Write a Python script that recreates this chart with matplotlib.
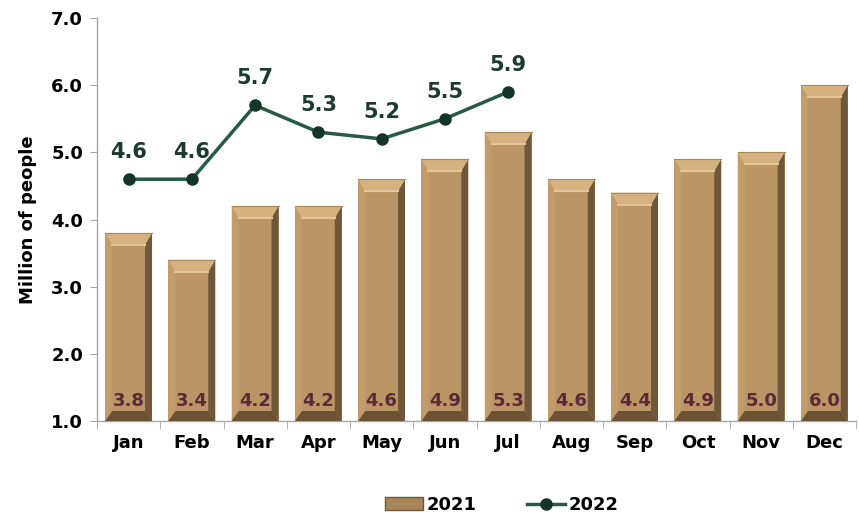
import matplotlib
matplotlib.use("Agg")
import matplotlib.pyplot as plt
from matplotlib.patches import Polygon, Patch
from matplotlib.lines import Line2D

months = ["Jan", "Feb", "Mar", "Apr", "May", "Jun", "Jul", "Aug", "Sep", "Oct", "Nov", "Dec"]
visitors_2021 = [3.8, 3.4, 4.2, 4.2, 4.6, 4.9, 5.3, 4.6, 4.4, 4.9, 5.0, 6.0]
visitors_2022 = [4.6, 4.6, 5.7, 5.3, 5.2, 5.5, 5.9]

plt.rcParams["font.family"] = ["DejaVu Sans"]
plt.rcParams["font.weight"] = "bold"

fig = plt.figure(figsize=(8.59, 5.18), dpi=100)
ax = fig.add_axes([97 / 859, 1 - 421 / 518, (856 - 97) / 859, (421 - 18) / 518])

base = 1.0
width = 0.74
x = list(range(len(months)))

bars = ax.bar(x, [v - base for v in visitors_2021], bottom=base, width=width,
              color="#bc9566", edgecolor="none", zorder=2)

# bevelled look: trapezoids on each edge of every bar
ax.set_xlim(-0.5, 11.5)
ax.set_ylim(1.0, 7.0)
bx = 7 / 63.25       # side bevel, in data units
by_top = 12 / 67.2
by_bot = 10 / 67.2
for rect in bars:
    x0 = rect.get_x()
    x1 = x0 + rect.get_width()
    y0 = rect.get_y()
    y1 = y0 + rect.get_height()
    faces = [
        ([(x0, y0), (x0 + bx, y0 + by_bot), (x0 + bx, y1 - by_top), (x0, y1)], "#c39c6c"),
        ([(x1, y0), (x1 - bx, y0 + by_bot), (x1 - bx, y1 - by_top), (x1, y1)], "#6f5839"),
        ([(x0, y1), (x0 + bx, y1 - by_top), (x1 - bx, y1 - by_top), (x1, y1)], "#d6b281"),
        ([(x0, y0), (x0 + bx, y0 + by_bot), (x1 - bx, y0 + by_bot), (x1, y0)], "#6a5335"),
    ]
    for pts, col in faces:
        ax.add_patch(Polygon(pts, closed=True, facecolor=col, edgecolor="none", zorder=3))
    # soft highlight along the inner edge of the top bevel
    ax.plot([x0 + bx, x1 - bx], [y1 - by_top, y1 - by_top], color="#e4c696", lw=1.5, zorder=4)
    ax.plot([x0, x1], [y1, y1], color="#a88659", lw=0.8, zorder=4)

for xi, v in zip(x, visitors_2021):
    ax.text(xi, 1.3, f"{v:.1f}", ha="center", va="center", fontsize=13,
            fontweight="bold", color="#5a2a3b", zorder=5)

ax.plot(x[:len(visitors_2022)], visitors_2022, color="#275a45", lw=2.5,
        marker="o", markersize=8, markerfacecolor="#143628",
        markeredgecolor="#143628", zorder=6)
for xi, v in zip(x, visitors_2022):
    ax.text(xi, v + 0.4, f"{v:.1f}", ha="center", va="center", fontsize=15,
            fontweight="bold", color="#1b3b30", zorder=7)

ax.set_yticks([1, 2, 3, 4, 5, 6, 7])
ax.set_yticklabels([f"{t:.1f}" for t in range(1, 8)], fontsize=13, fontweight="bold")
ax.set_xticks(x)
ax.set_xticklabels(months, fontsize=13, fontweight="bold")
ax.set_xticks([i - 0.5 for i in range(13)], minor=True)
ax.tick_params(axis="x", which="major", length=0, pad=9)
ax.tick_params(axis="x", which="minor", length=6, color="#a6a6a6")
ax.tick_params(axis="y", length=5, color="#a6a6a6", pad=5)
ax.set_ylabel("Million of people", fontsize=13, fontweight="bold", labelpad=10)

for side in ["top", "right"]:
    ax.spines[side].set_visible(False)
for side in ["left", "bottom"]:
    ax.spines[side].set_color("#a6a6a6")
    ax.spines[side].set_linewidth(1)

handles = [
    Patch(facecolor="#a88659", edgecolor="#6f5839", linewidth=1),
    Line2D([0], [0], color="#275a45", lw=2.5, marker="o", markersize=8,
           markerfacecolor="#143628", markeredgecolor="#143628"),
]
fig.legend(handles, ["2021", "2022"], loc="center", bbox_to_anchor=(502 / 859, 13 / 518),
           ncol=2, frameon=False, fontsize=13, handlelength=2.1, handletextpad=0.2,
           columnspacing=2.8)

fig.savefig("out.png", dpi=100)
